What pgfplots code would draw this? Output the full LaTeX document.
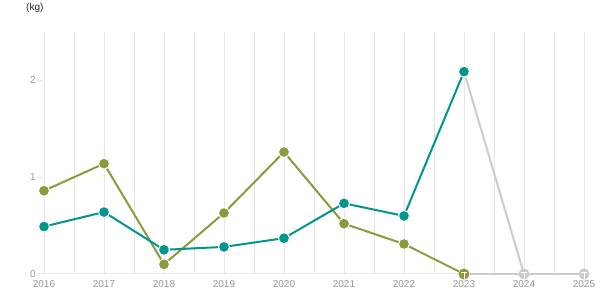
\documentclass[border=0pt]{standalone}
\usepackage{fontspec}
\setmainfont{Liberation Sans}
\usepackage{pgfplots}
\pgfplotsset{compat=1.18}
\definecolor{teal1}{RGB}{0,150,140}
\definecolor{olive1}{RGB}{138,154,60}
\definecolor{gray1}{RGB}{204,204,204}
\definecolor{gridc}{RGB}{230,230,230}
\definecolor{tickc}{RGB}{150,150,150}
\pgfdeclareplotmark{circT}{%
  \pgfpathcircle{\pgfpointorigin}{\pgfplotmarksize}\pgfusepathqfill
  \pgfsetstrokecolor{white}\pgfsetlinewidth{1pt}%
  \pgfpathmoveto{\pgfpoint{-0.55\pgfplotmarksize}{0.25\pgfplotmarksize}}%
  \pgfpathlineto{\pgfpoint{0.55\pgfplotmarksize}{0.25\pgfplotmarksize}}%
  \pgfpathmoveto{\pgfpoint{0pt}{0.25\pgfplotmarksize}}%
  \pgfpathlineto{\pgfpoint{0pt}{-\pgfplotmarksize}}%
  \pgfusepathqstroke}
\begin{document}
\begin{tikzpicture}
\useasboundingbox (0,0) rectangle (615pt,305pt);
\node[anchor=west, font=\fontsize{10}{12}\selectfont, text=black!85, inner sep=0pt] at (26pt,297pt) {(kg)};
\begin{axis}[
  at={(44pt,31pt)}, anchor=south west,
  scale only axis, width=540pt, height=242pt,
  xmin=0, xmax=9, ymin=0, ymax=2.5,
  axis x line*=bottom, axis y line=none,
  x axis line style={gridc, line width=1pt},
  xtick={0,...,9}, minor x tick num=1,
  xticklabels={2016,2017,2018,2019,2020,2021,2022,2023,2024,2025},
  major tick length=0pt, minor tick length=0pt,
  xmajorgrids, xminorgrids,
  grid style={gridc, line width=0.8pt},
  minor grid style={gridc, line width=0.8pt},
  ytick={0,1,2},
  ticklabel style={font=\fontsize{10}{12}\selectfont, text=tickc},
  xticklabel style={yshift=-3pt},
  clip=false,
]
\draw[gridc, line width=1pt] (axis cs:0,0) -- ++(-6pt,0);
\draw[gridc, line width=1pt] (axis cs:0,1) ++(-6pt,0) -- ++(5pt,0);
\draw[gridc, line width=1pt] (axis cs:0,2) ++(-6pt,0) -- ++(5pt,0);
\node[anchor=east, font=\fontsize{10}{12}\selectfont, text=tickc, inner sep=0pt] at ([xshift=-8pt]axis cs:0,0) {0};
\node[anchor=east, font=\fontsize{10}{12}\selectfont, text=tickc, inner sep=0pt] at ([xshift=-8pt]axis cs:0,1) {1};
\node[anchor=east, font=\fontsize{10}{12}\selectfont, text=tickc, inner sep=0pt] at ([xshift=-8pt]axis cs:0,2) {2};
\addplot[gray1, line width=2pt, mark=none] coordinates {(7,2.09) (8,0)};
\addplot[gray1, line width=2pt, mark=circT, mark size=5.5pt, mark options={fill=gray1}] coordinates {(7,0) (8,0) (9,0)};
\addplot[olive1, line width=2pt, mark=*, mark size=5.5pt, mark options={fill=olive1, draw=white, line width=1pt}] coordinates {
(0,0.86) (1,1.14) (2,0.10) (3,0.63) (4,1.26) (5,0.52) (6,0.31) (7,0)};
\addplot[only marks, mark=circT, mark size=5.5pt, olive1, mark options={fill=olive1}] coordinates {(7,0)};
\addplot[teal1, line width=2pt, mark=*, mark size=5.5pt, mark options={fill=teal1, draw=white, line width=1pt}] coordinates {
(0,0.49) (1,0.64) (2,0.25) (3,0.28) (4,0.37) (5,0.73) (6,0.60) (7,2.09)};
\end{axis}
\end{tikzpicture}
\end{document}
